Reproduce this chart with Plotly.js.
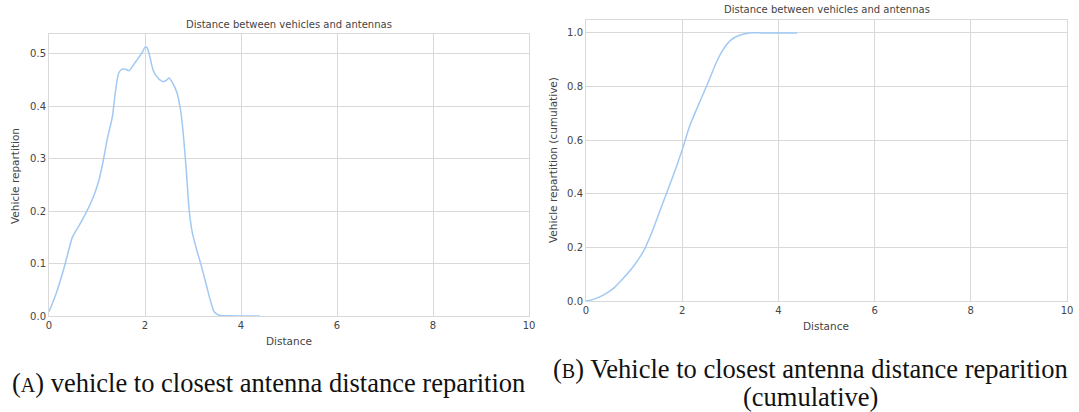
<!DOCTYPE html>
<html>
<head>
<meta charset="utf-8">
<script src="https://cdn.plot.ly/plotly-3.0.1.min.js"></script>
<style>html,body{margin:0;padding:0;background:#fff;}#chart{width:1079px;height:412px;}</style>
</head>
<body>
<div id="chart"></div>
<script>
// Density (KDE) of distance between vehicles and closest antenna
const densityX = [0, 0.15, 0.32, 0.49, 0.63, 0.80, 0.94, 1.04, 1.14, 1.21, 1.32, 1.38, 1.45, 1.52, 1.59, 1.67, 1.76, 1.86, 1.95, 2.00, 2.05, 2.10, 2.17, 2.27, 2.38, 2.45, 2.50, 2.58, 2.67, 2.74, 2.79, 2.86, 2.92, 2.99, 3.08, 3.16, 3.27, 3.37, 3.44, 3.54, 3.78, 4.05, 4.39];
const densityY = [0.008, 0.043, 0.094, 0.151, 0.173, 0.202, 0.231, 0.259, 0.301, 0.336, 0.380, 0.425, 0.463, 0.471, 0.471, 0.468, 0.479, 0.492, 0.504, 0.513, 0.511, 0.495, 0.469, 0.454, 0.447, 0.450, 0.454, 0.444, 0.425, 0.393, 0.355, 0.278, 0.202, 0.157, 0.125, 0.100, 0.062, 0.027, 0.008, 0.0015, 0.0005, 0.0, 0.0];

// Cumulative distribution
const cumulX = [0, 0.15, 0.36, 0.57, 0.77, 0.98, 1.19, 1.36, 1.53, 1.70, 1.88, 2.01, 2.15, 2.32, 2.53, 2.70, 2.84, 3.01, 3.19, 3.39, 3.67, 4.39];
const cumulY = [0, 0.006, 0.022, 0.047, 0.084, 0.128, 0.184, 0.252, 0.333, 0.414, 0.501, 0.569, 0.650, 0.724, 0.811, 0.886, 0.935, 0.973, 0.991, 1.0, 1.0, 1.0];

const xTicks = [0, 2, 4, 6, 8, 10];
const yTicksA = [0.0, 0.1, 0.2, 0.3, 0.4, 0.5];
const yTicksB = [0.0, 0.2, 0.4, 0.6, 0.8, 1.0];

const chartTitle = "Distance between vehicles and antennas";
const xLabel = "Distance";
const yLabelA = "Vehicle repartition";
const yLabelB = "Vehicle repartition (cumulative)";
const captionA = '(<span style="font-size:20px">A</span>) vehicle to closest antenna distance reparition';
const captionB1 = '(<span style="font-size:20px">B</span>) Vehicle to closest antenna distance reparition';
const captionB2 = '(cumulative)';

const W = 1079, H = 412;
const px = v => v / W;
const py = v => 1 - v / H;

const lineColor = '#a1c9f4';
const gridColor = '#d9d9d9';
const txt = '#444444';
const sans = 'DejaVu Sans, sans-serif';
const serif = 'Liberation Serif, serif';

function fmt(v, d) { return v.toFixed(d); }

const axBase = {
  showgrid: true, gridcolor: gridColor, gridwidth: 1,
  showline: true, linecolor: gridColor, linewidth: 1, mirror: true,
  zeroline: false, ticks: '', fixedrange: true,
  tickfont: {family: sans, size: 10, color: txt}
};

const traces = [
  {x: densityX, y: densityY, type: 'scatter', mode: 'lines', xaxis: 'x', yaxis: 'y',
   line: {color: lineColor, width: 1.5, shape: 'spline', smoothing: 0.6}, hoverinfo: 'skip'},
  {x: cumulX, y: cumulY, type: 'scatter', mode: 'lines', xaxis: 'x2', yaxis: 'y2',
   line: {color: lineColor, width: 1.5, shape: 'spline', smoothing: 0.6}, hoverinfo: 'skip'}
];

const layout = {
  width: W, height: H,
  margin: {l: 0, r: 0, t: 0, b: 0},
  paper_bgcolor: '#ffffff', plot_bgcolor: '#ffffff',
  showlegend: false,
  xaxis: Object.assign({}, axBase, {domain: [px(49), px(529)], range: [0, 10],
    tickvals: xTicks, ticktext: xTicks.map(String), anchor: 'y'}),
  yaxis: Object.assign({}, axBase, {domain: [py(316), py(34)], range: [0, 0.538],
    tickvals: yTicksA, ticktext: yTicksA.map(v => fmt(v, 1)), anchor: 'x'}),
  xaxis2: Object.assign({}, axBase, {domain: [px(586), px(1067)], range: [0, 10],
    tickvals: xTicks, ticktext: xTicks.map(String), anchor: 'y2'}),
  yaxis2: Object.assign({}, axBase, {domain: [py(301), py(19.5)], range: [0, 1.05],
    tickvals: yTicksB, ticktext: yTicksB.map(v => fmt(v, 1)), anchor: 'x2'}),
  annotations: [
    {text: chartTitle, xref: 'paper', yref: 'paper', x: px(289), y: py(25), showarrow: false,
     xanchor: 'center', yanchor: 'middle', font: {family: sans, size: 10, color: txt}},
    {text: chartTitle, xref: 'paper', yref: 'paper', x: px(827), y: py(10), showarrow: false,
     xanchor: 'center', yanchor: 'middle', font: {family: sans, size: 10, color: txt}},
    {text: xLabel, xref: 'paper', yref: 'paper', x: px(289), y: py(341), showarrow: false,
     xanchor: 'center', yanchor: 'middle', font: {family: sans, size: 10.5, color: txt}},
    {text: xLabel, xref: 'paper', yref: 'paper', x: px(826), y: py(326), showarrow: false,
     xanchor: 'center', yanchor: 'middle', font: {family: sans, size: 10.5, color: txt}},
    {text: yLabelA, xref: 'paper', yref: 'paper', x: px(15), y: py(176), showarrow: false, textangle: -90,
     xanchor: 'center', yanchor: 'middle', font: {family: sans, size: 10.5, color: txt}},
    {text: yLabelB, xref: 'paper', yref: 'paper', x: px(553), y: py(160), showarrow: false, textangle: -90,
     xanchor: 'center', yanchor: 'middle', font: {family: sans, size: 10.5, color: txt}},
    {text: captionA, xref: 'paper', yref: 'paper', x: px(268), y: py(383), showarrow: false,
     xanchor: 'center', yanchor: 'middle', font: {family: serif, size: 26.5, color: '#111'}},
    {text: captionB1, xref: 'paper', yref: 'paper', x: px(810), y: py(369), showarrow: false,
     xanchor: 'center', yanchor: 'middle', font: {family: serif, size: 26.5, color: '#111'}},
    {text: captionB2, xref: 'paper', yref: 'paper', x: px(810), y: py(397), showarrow: false,
     xanchor: 'center', yanchor: 'middle', font: {family: serif, size: 26.5, color: '#111'}}
  ]
};

Plotly.newPlot('chart', traces, layout, {staticPlot: true, displayModeBar: false});
</script>
</body>
</html>
